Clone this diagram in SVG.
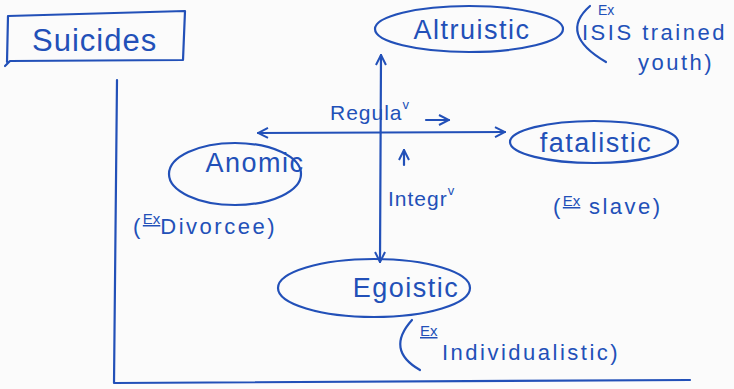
<svg xmlns="http://www.w3.org/2000/svg" width="734" height="389" viewBox="0 0 734 389">
<defs>
<style>
.ink{stroke:#2250b8;stroke-width:2.2;fill:none;stroke-linecap:round;stroke-linejoin:round}
.t{fill:#2250b8;font-family:"Liberation Sans","DejaVu Sans",sans-serif}
.n{font-size:27px;letter-spacing:1.5px}
.s{font-size:21px;letter-spacing:1px}
.w{font-size:22px;letter-spacing:2.5px}
.x{font-size:15px;text-decoration:underline}
</style>
<marker id="ah" viewBox="0 0 12 12" refX="11" refY="6" markerWidth="12" markerHeight="12" markerUnits="userSpaceOnUse" orient="auto-start-reverse">
<path d="M1,1 L11,6 L1,11" fill="none" stroke="#2250b8" stroke-width="2"/>
</marker>
</defs>
<rect width="734" height="389" fill="#fbfbfb"/>
<g id="title">
<path class="ink" d="M8,16 L185,11 L183,60 L10,61 L5,66 M8,16 L7,62"/>
<text class="t" x="32" y="51" font-size="31" letter-spacing="1">Suicides</text>
</g>
<g id="frame">
<path class="ink" d="M117,80 L114,383 L690,380"/>
</g>
<g id="connectors">
<path class="ink" d="M380,262 L381,55" marker-start="url(#ah)" marker-end="url(#ah)"/>
<path class="ink" d="M258,133 L505,132" marker-start="url(#ah)" marker-end="url(#ah)"/>
<path class="ink" d="M426,120 L449,120" marker-end="url(#ah)"/>
<path class="ink" d="M404,165 L404,150" marker-end="url(#ah)"/>
<text class="t s" x="330" y="120">Regula<tspan font-size="13" dy="-11">v</tspan></text>
<text class="t s" x="388" y="206">Integr<tspan font-size="13" dy="-11">v</tspan></text>
</g>
<g id="altruistic">
<ellipse class="ink" cx="469" cy="29" rx="94" ry="23"/>
<text class="t n" x="472" y="39" text-anchor="middle">Altruistic</text>
<path class="ink" d="M590,6 Q558,34 606,62"/>
<text class="t" x="598" y="15" font-size="14">Ex</text>
<text class="t w" x="582" y="40" letter-spacing="1.5">ISIS trained</text>
<text class="t w" x="638" y="70">youth)</text>
</g>
<g id="fatalistic">
<ellipse class="ink" cx="594" cy="142" rx="84" ry="21"/>
<text class="t n" x="596" y="152" text-anchor="middle">fatalistic</text>
<text class="t w" x="553" y="214">(<tspan class="x" dy="-8" letter-spacing="0">Ex</tspan><tspan dy="8"> slave)</tspan></text>
</g>
<g id="anomic">
<ellipse class="ink" cx="235" cy="174" rx="66" ry="31"/>
<text class="t n" x="255" y="172" text-anchor="middle">Anomic</text>
<text class="t w" x="133" y="234">(<tspan class="x" dy="-10" letter-spacing="0">Ex</tspan><tspan dy="10">Divorcee)</tspan></text>
</g>
<g id="egoistic">
<ellipse class="ink" cx="374" cy="288" rx="96" ry="29"/>
<text class="t n" x="406" y="297" text-anchor="middle">Egoistic</text>
<path class="ink" d="M412,320 Q385,350 420,370"/>
<text class="t x" x="420" y="336">Ex</text>
<text class="t w" x="442" y="360" letter-spacing="3">Individualistic)</text>
</g>
</svg>
